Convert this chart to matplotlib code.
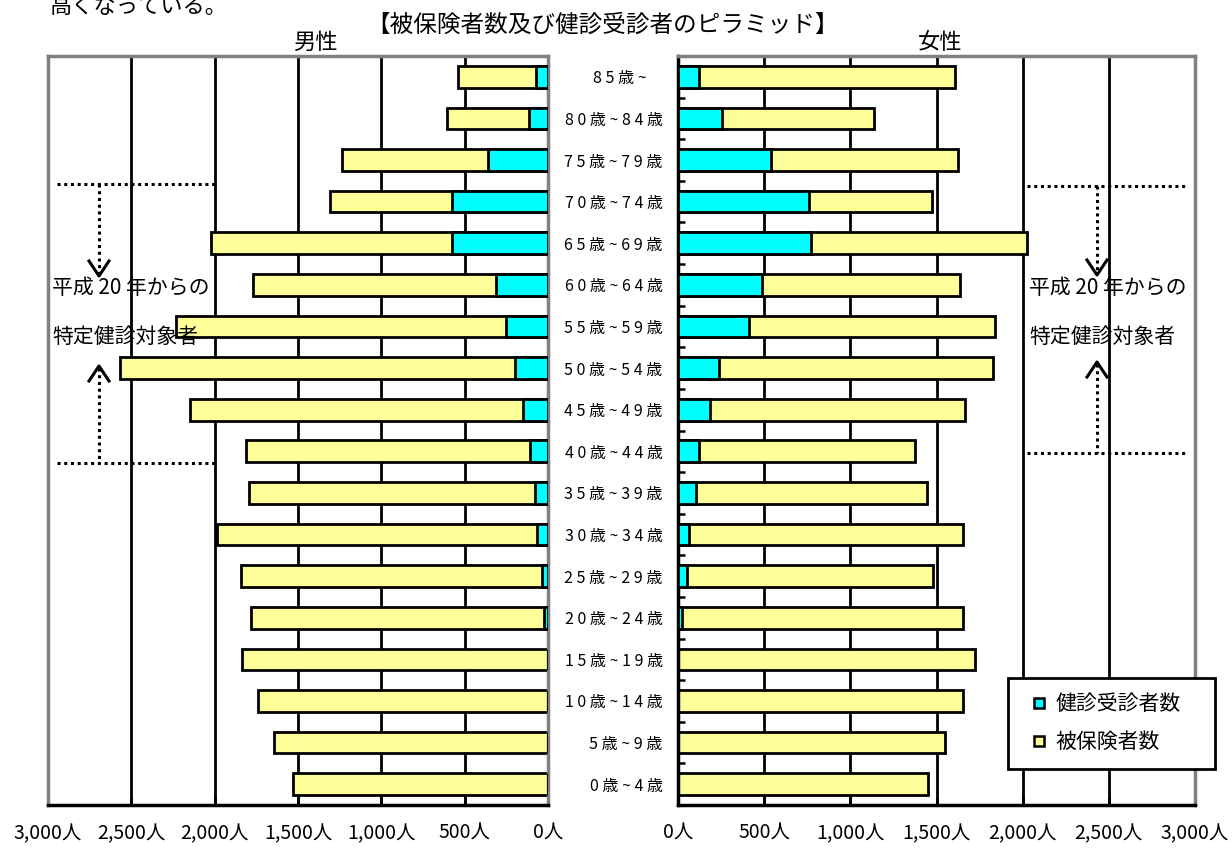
import numpy as np
import matplotlib
matplotlib.use("Agg")
import matplotlib.pyplot as plt
from matplotlib.lines import Line2D

plt.rcParams["font.family"] = ["Noto Sans CJK JP", "DejaVu Sans"]

# data, index 0 = 0-4 years (bottom row)
age_labels = ["0 歳 ~ 4 歳", "5 歳 ~ 9 歳", "1 0 歳 ~ 1 4 歳", "1 5 歳 ~ 1 9 歳",
              "2 0 歳 ~ 2 4 歳", "2 5 歳 ~ 2 9 歳", "3 0 歳 ~ 3 4 歳", "3 5 歳 ~ 3 9 歳",
              "4 0 歳 ~ 4 4 歳", "4 5 歳 ~ 4 9 歳", "5 0 歳 ~ 5 4 歳", "5 5 歳 ~ 5 9 歳",
              "6 0 歳 ~ 6 4 歳", "6 5 歳 ~ 6 9 歳", "7 0 歳 ~ 7 4 歳", "7 5 歳 ~ 7 9 歳",
              "8 0 歳 ~ 8 4 歳", "8 5 歳 ~\u3000"]
male_insured = [1528, 1644, 1740, 1834, 1784, 1842, 1988, 1794, 1812,
                2148, 2568, 2232, 1772, 2022, 1308, 1234, 606, 542]
male_checked = [0, 0, 0, 0, 22, 36, 68, 78, 108,
                148, 196, 252, 312, 578, 578, 358, 114, 72]
female_insured = [1452, 1552, 1654, 1721, 1654, 1481, 1656, 1446, 1378,
                  1666, 1826, 1838, 1637, 2025, 1473, 1626, 1135, 1608]
female_checked = [0, 0, 0, 0, 26, 55, 64, 103, 123,
                  187, 239, 414, 486, 774, 758, 537, 255, 119]
xticks = [0, 500, 1000, 1500, 2000, 2500, 3000]

W, H = 1232, 850
YELLOW = "#FFFF99"
CYAN = "#00FFFF"
GRAY = "#808080"

fig = plt.figure(figsize=(W / 100, H / 100), dpi=100)
ax_l = fig.add_axes([48 / W, 1 - 805 / H, 500 / W, 749 / H])
ax_r = fig.add_axes([678 / W, 1 - 805 / H, 517 / W, 749 / H])

y = np.arange(len(age_labels))
for ax, tot, chk in [(ax_l, male_insured, male_checked),
                     (ax_r, female_insured, female_checked)]:
    for v in xticks[1:-1]:
        ax.axvline(v, color="black", lw=2, zorder=0)
    ax.barh(y, tot, height=0.52, color=YELLOW, edgecolor="black", lw=2, zorder=2)
    ax.barh(y, chk, height=0.52, color=CYAN, edgecolor="black", lw=2, zorder=3)
    ax.set_ylim(-0.5, len(y) - 0.5)
    ax.set_xticks(xticks)
    ax.set_xticklabels([f"{v:,}人" for v in xticks], fontsize=14)
    ax.tick_params(axis="x", direction="in", length=6, width=2, pad=13)
    for s in ["top", "left", "right"]:
        ax.spines[s].set_color(GRAY)
        ax.spines[s].set_linewidth(2.5)
    ax.spines["bottom"].set_linewidth(2.5)

ax_l.set_xlim(3000, 0)
ax_l.set_yticks([])

ax_r.set_xlim(0, 3000)
ax_r.spines["left"].set_color("black")
ax_r.set_yticks(y)
ax_r.set_yticklabels(age_labels, fontsize=11.5, ha="right")
ax_r.tick_params(axis="y", length=0, pad=11)
ax_r.set_yticks(np.arange(0.5, len(y) - 0.5, 1), minor=True)
ax_r.tick_params(axis="y", which="minor", direction="in", length=5, width=1.8)

mk = dict(marker="s", color="none", markersize=7.5, markeredgecolor="black", markeredgewidth=1.8)
leg = ax_r.legend(handles=[Line2D([], [], markerfacecolor=CYAN, **mk),
                           Line2D([], [], markerfacecolor=YELLOW, **mk)],
                  labels=["健診受診者数", "被保険者数"],
                  loc="upper left", bbox_to_anchor=(0.638, 0.06, 0.40, 0.11),
                  mode="expand", fontsize=15,
                  handlelength=1.5, handletextpad=0.05,
                  labelspacing=0.75, borderpad=0.75, borderaxespad=0,
                  fancybox=False, framealpha=1, edgecolor="black")
leg.get_frame().set_linewidth(2)
leg.set_zorder(10)

# overlay in pixel coordinates for the annotations
ov = fig.add_axes([0, 0, 1, 1])
ov.set_xlim(0, W)
ov.set_ylim(H, 0)
ov.axis("off")
ov.patch.set_alpha(0)

ov.text(50, 13, "高くなっている。", fontsize=16, ha="left", va="baseline")
ov.text(603, 25, "【被保険者数及び健診受診者のピラミッド】", fontsize=17, ha="center", va="center")
ov.text(315, 42, "男性", fontsize=16, ha="center", va="center")
ov.text(940, 42, "女性", fontsize=16, ha="center", va="center")

dot = dict(color="black", lw=2.2, linestyle=(0, (1, 1.2)))
for x0, x1, xv, top, bot, tipd, tipu, tx in [(57, 218, 99, 184, 463, 276, 366, 52),
                                             (1027, 1188, 1097, 186, 453, 275, 362, 1029)]:
    ov.plot([x0, x1], [top, top], **dot)
    ov.plot([x0, x1], [bot, bot], **dot)
    ov.plot([xv, xv], [top, tipd - 2], **dot)
    ov.plot([xv, xv], [tipu + 2, bot], **dot)
    ov.plot([xv - 10, xv, xv + 10], [tipd - 15, tipd, tipd - 15], color="black", lw=2.2)
    ov.plot([xv - 10, xv, xv + 10], [tipu + 15, tipu, tipu + 15], color="black", lw=2.2)
    ov.text(tx, 288, "平成 20 年からの", fontsize=15, ha="left", va="center")
    ov.text(tx, 337, "特定健診対象者", fontsize=15, ha="left", va="center")

fig.savefig("out.png", dpi=100)
